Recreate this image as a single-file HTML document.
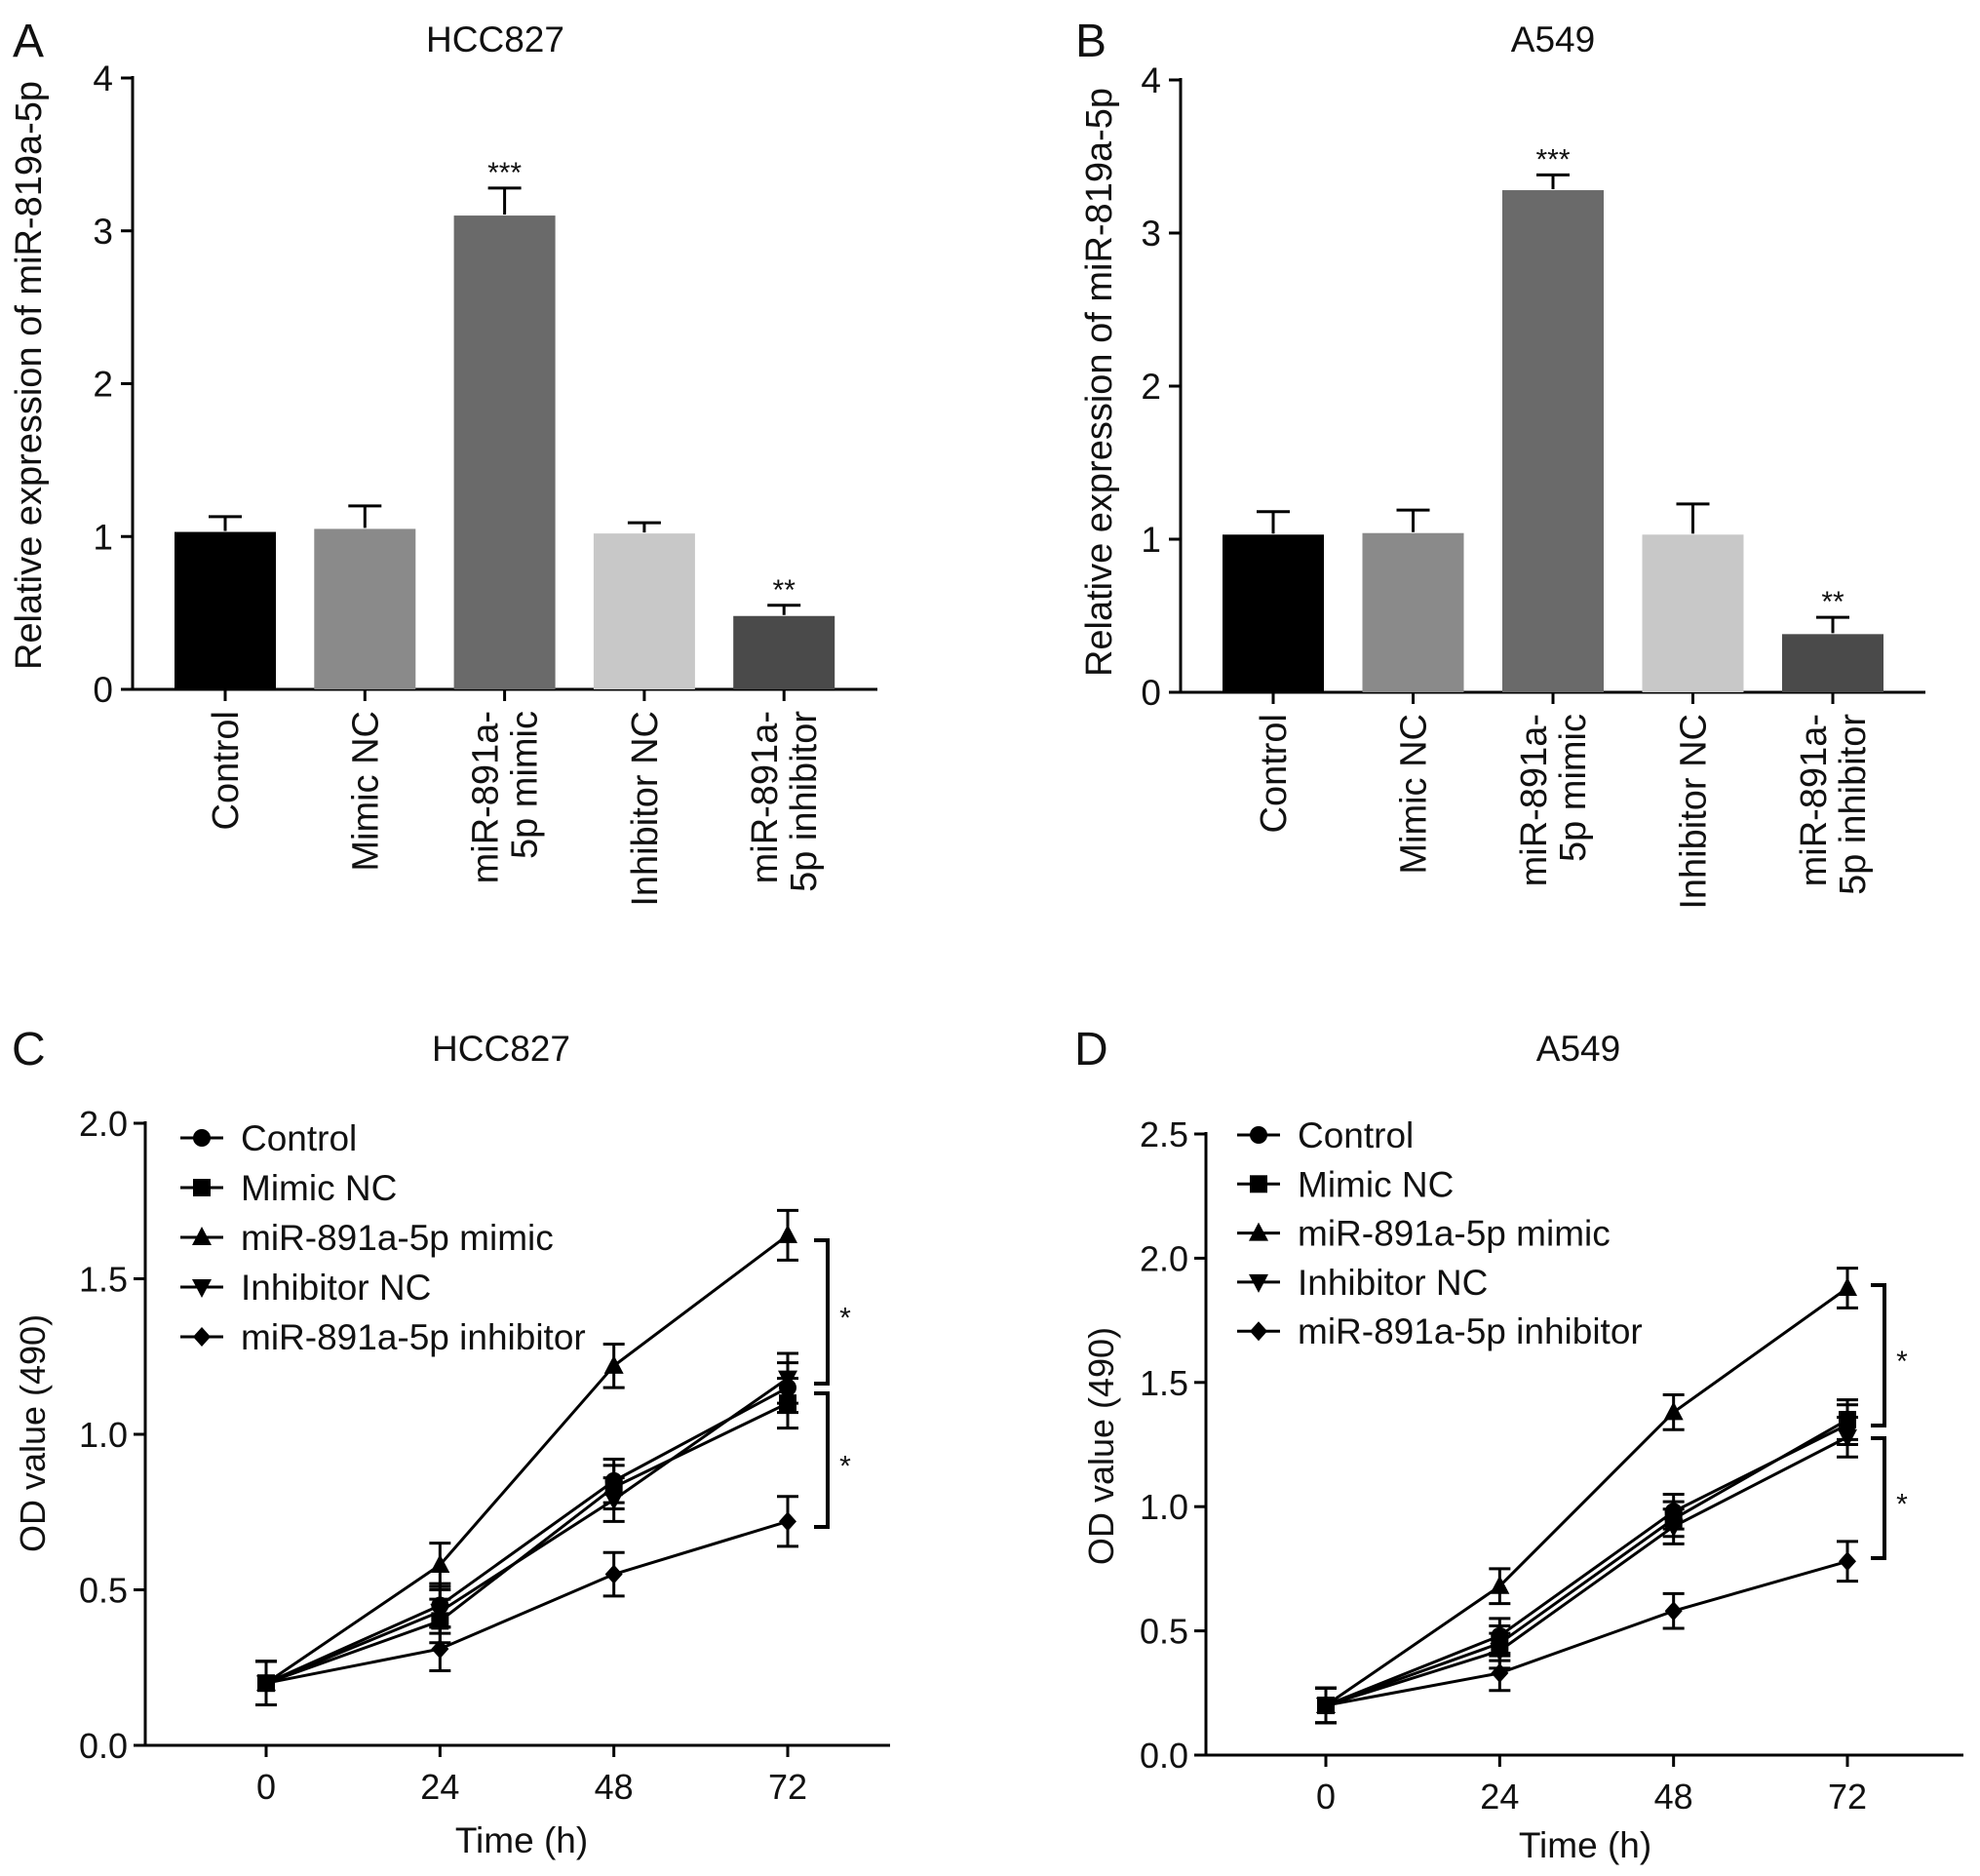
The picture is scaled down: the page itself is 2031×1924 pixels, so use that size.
<!DOCTYPE html>
<html><head><meta charset="utf-8"><style>
html,body{margin:0;padding:0;background:#fff}
svg{display:block;font-family:"Liberation Sans",Arial,sans-serif}
</style></head><body>
<svg id="fig" width="2031" height="1924" viewBox="0 0 2031 1924"></svg>
<script>
const barCategories = [["Control"],["Mimic NC"],["miR-891a-","5p mimic"],["Inhibitor NC"],["miR-891a-","5p inhibitor"]];
const barColors = ["#000000","#8a8a8a","#6a6a6a","#c8c8c8","#4a4a4a"];
const barTicks = [0,1,2,3,4];
const hccBarValues = [1.03,1.05,3.10,1.02,0.48];
const hccBarErrors = [0.10,0.15,0.18,0.07,0.07];
const hccBarSig = ["","","***","","**"];
const a549BarValues = [1.03,1.04,3.28,1.03,0.38];
const a549BarErrors = [0.15,0.15,0.10,0.20,0.11];
const a549BarSig = ["","","***","","**"];

const timePoints = [0,24,48,72];
const seriesNames = ["Control","Mimic NC","miR-891a-5p mimic","Inhibitor NC","miR-891a-5p inhibitor"];
const seriesMarkers = ["circle","square","triangle","tridown","diamond"];
const hccControl = [0.20,0.45,0.85,1.15];
const hccMimicNC = [0.20,0.40,0.83,1.10];
const hccMimic = [0.20,0.58,1.22,1.64];
const hccInhNC = [0.20,0.43,0.79,1.18];
const hccInh = [0.20,0.31,0.55,0.72];
const hccErr = [0.07,0.07,0.07,0.08];
const hccTicks = ["0.0","0.5","1.0","1.5","2.0"];
const a549Control = [0.20,0.48,0.98,1.33];
const a549MimicNC = [0.20,0.45,0.95,1.35];
const a549Mimic = [0.20,0.68,1.38,1.88];
const a549InhNC = [0.20,0.42,0.92,1.28];
const a549Inh = [0.20,0.33,0.58,0.78];
const a549Err = [0.07,0.07,0.07,0.08];
const a549Ticks = ["0.0","0.5","1.0","1.5","2.0","2.5"];

const NS="http://www.w3.org/2000/svg";
const svg=document.getElementById('fig');
function el(tag,attrs,parent,text){const e=document.createElementNS(NS,tag);for(const k in attrs)e.setAttribute(k,attrs[k]);if(text!==undefined)e.textContent=text;(parent||svg).appendChild(e);return e;}
function txt(x,y,s,size,anchor,name,rot,parent){
  const t=el('text',{x:x,y:y,'font-size':size,'text-anchor':anchor||'middle',fill:'#111'},parent,s);
  if(rot)t.setAttribute('transform','rotate(-90 '+x+' '+y+')');
  
  
  return t;
}
function line(x1,y1,x2,y2,w,parent){return el('line',{x1:x1,y1:y1,x2:x2,y2:y2,stroke:'#000','stroke-width':w||3},parent);}

function barChart(cfg){
  const g=el('g',{},svg);
  
  
  const yS=v=>cfg.y0-(v/4)*(cfg.y0-cfg.y4);
  line(cfg.ax,cfg.y4-2,cfg.ax,cfg.y0+1.5,3,g);
  line(cfg.ax,cfg.y0,cfg.xend,cfg.y0,3,g);
  barTicks.forEach(t=>{const y=yS(t);line(cfg.ax-12,y,cfg.ax,y,3,g);txt(cfg.ax-20,y+13,String(t),37,'end','y-tick-label',false,g);});
  cfg.values.forEach((v,i)=>{
    const cx=cfg.x0+i*cfg.step, w=104;
    const r=el('rect',{x:cx-w/2,y:yS(v),width:w,height:cfg.y0-yS(v),fill:barColors[i]},g);
    
    
    const top=yS(v+cfg.errors[i]);
    line(cx,yS(v)-1,cx,top,3,g);line(cx-17,top,cx+17,top,3,g);
    if(cfg.sig[i])txt(cx,top-6,cfg.sig[i],30,'middle','significance-mark',false,g);
    line(cx,cfg.y0,cx,cfg.y0+12,3,g);
    const lines=barCategories[i];
    lines.forEach((s,j)=>{const lx=cx+13+(j-(lines.length-1)/2)*40;txt(lx,cfg.y0+22,s,38,'end','x-category-label',true,g);});
  });
  txt(cfg.titleX,53,cfg.title,37,'middle','chart-title',false,g);
  txt(cfg.letterX,58,cfg.letter,48,'start','panel-label',false,g);
  txt(cfg.ytX,cfg.ytY,'Relative expression of miR-819a-5p',38,'middle','y-axis-title',true,g);
}
barChart({name:'panel-a-bar-chart',ax:136,y0:707,y4:80,xend:900,x0:231,step:143.3,values:hccBarValues,errors:hccBarErrors,sig:hccBarSig,title:'HCC827',titleX:508,letter:'A',letterX:13,ytX:42,ytY:385,});
barChart({name:'panel-b-bar-chart',ax:1211,y0:710,y4:82,xend:1975,x0:1306,step:143.5,values:a549BarValues,errors:a549BarErrors,sig:a549BarSig,title:'A549',titleX:1593,letter:'B',letterX:1103,ytX:1140,ytY:392});

function marker(type,x,y,g){
  let m;
  if(type==='circle')m=el('circle',{cx:x,cy:y,r:9,fill:'#000'},g);
  else if(type==='square')m=el('rect',{x:x-9,y:y-9,width:18,height:18,fill:'#000'},g);
  else if(type==='triangle')m=el('polygon',{points:(x)+','+(y-11)+' '+(x-10)+','+(y+8)+' '+(x+10)+','+(y+8),fill:'#000'},g);
  else if(type==='tridown')m=el('polygon',{points:(x)+','+(y+11)+' '+(x-10)+','+(y-8)+' '+(x+10)+','+(y-8),fill:'#000'},g);
  else m=el('polygon',{points:x+','+(y-10)+' '+(x+9)+','+y+' '+x+','+(y+10)+' '+(x-9)+','+y,fill:'#000'},g);
  
  
}
function lineChart(cfg){
  const g=el('g',{},svg);
  
  
  const ymax=(cfg.ticks.length-1)*0.5;
  const yS=v=>cfg.y0-(v/ymax)*(cfg.y0-cfg.ytop);
  const xS=t=>cfg.x0+(t/72)*(cfg.x72-cfg.x0);
  line(cfg.ax,cfg.ytop-2,cfg.ax,cfg.y0+1.5,3,g);
  line(cfg.ax,cfg.y0,cfg.xend,cfg.y0,3,g);
  cfg.ticks.forEach((s,i)=>{const y=yS(i*0.5);line(cfg.ax-12,y,cfg.ax,y,3,g);txt(cfg.ax-18,y+13,s,36,'end','y-tick-label',false,g);});
  timePoints.forEach(t=>{const x=xS(t);line(x,cfg.y0,x,cfg.y0+12,3,g);txt(x,cfg.y0+55,String(t),36,'middle','x-tick-label',false,g);});
  cfg.series.forEach((vals,si)=>{
    const pts=vals.map((v,i)=>xS(timePoints[i])+','+yS(v)).join(' ');
    const pl=el('polyline',{points:pts,fill:'none',stroke:'#000','stroke-width':3},g);
    
    
    vals.forEach((v,i)=>{
      const x=xS(timePoints[i]),e=cfg.err[i];
      line(x,yS(v-e),x,yS(v+e),3,g);line(x-11,yS(v+e),x+11,yS(v+e),3,g);line(x-11,yS(v-e),x+11,yS(v-e),3,g);
      marker(seriesMarkers[si],x,yS(v),g);
    });
  });
  seriesNames.forEach((n,i)=>{
    const y=cfg.legY+i*cfg.legStep;
    const lg=el('g',{},g);
    
    
    line(cfg.legX-22,y,cfg.legX+22,y,3,lg);marker(seriesMarkers[i],cfg.legX,y,lg);
    txt(cfg.legX+40,y+13,n,37,'start','legend-label',false,lg);
  });
  cfg.brackets.forEach(b=>{
    el('polyline',{points:(b[0])+','+b[1]+' '+(b[0]+14)+','+b[1]+' '+(b[0]+14)+','+b[2]+' '+b[0]+','+b[2],fill:'none',stroke:'#000','stroke-width':4},g);
    txt(b[0]+32,(b[1]+b[2])/2+16,'*',30,'middle','significance-mark',false,g);
  });
  txt(cfg.titleX,1088,cfg.title,37,'middle','chart-title',false,g);
  txt(cfg.letterX,1092,cfg.letter,48,'start','panel-label',false,g);
  txt(cfg.ytX,cfg.ytY,'OD value (490)',36,'middle','y-axis-title',true,g);
  txt(cfg.xtX,cfg.xtY,'Time (h)',37,'middle','x-axis-title',false,g);
}
lineChart({name:'panel-c-line-chart',ax:149,y0:1790,ytop:1152,xend:913,x0:273,x72:808,ticks:hccTicks,
  series:[hccControl,hccMimicNC,hccMimic,hccInhNC,hccInh],err:hccErr,legX:207,legY:1167,legStep:51,
  brackets:[[835,1272,1419],[835,1429,1566]],title:'HCC827',titleX:514,letter:'C',letterX:12,ytX:46,ytY:1470,xtX:535,xtY:1900});
lineChart({name:'panel-d-line-chart',ax:1237,y0:1800,ytop:1163,xend:2014,x0:1360,x72:1895,ticks:a549Ticks,
  series:[a549Control,a549MimicNC,a549Mimic,a549InhNC,a549Inh],err:a549Err,legX:1291,legY:1164,legStep:50.3,
  brackets:[[1919,1318,1462],[1919,1475,1598]],title:'A549',titleX:1619,letter:'D',letterX:1102,ytX:1142,ytY:1483,xtX:1626,xtY:1905});
</script>
</body></html>
